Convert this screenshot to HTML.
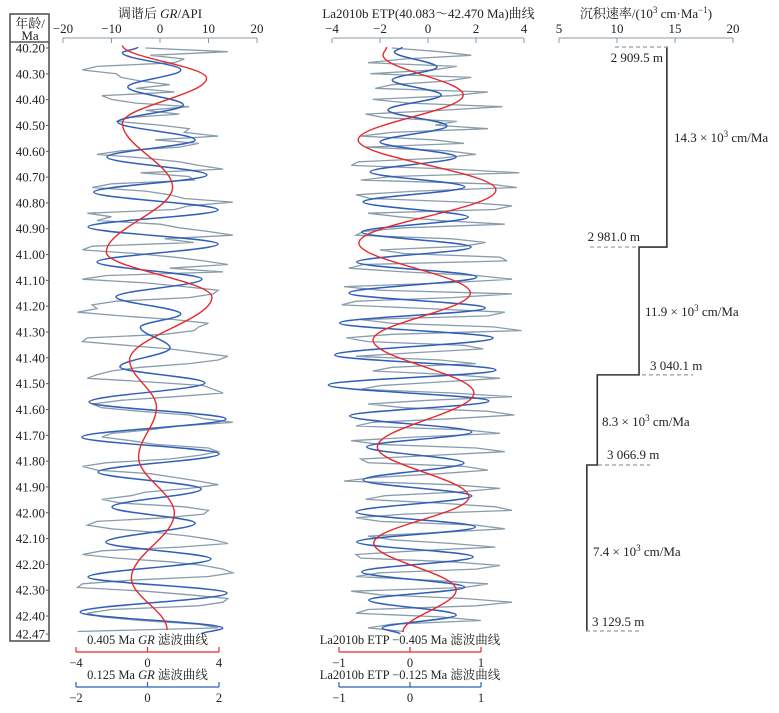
<!DOCTYPE html>
<html><head><meta charset="utf-8"><style>
body{margin:0;background:#fff;}
svg text{font-family:"Liberation Serif","Noto Serif CJK SC","Noto Sans CJK SC",serif;fill:#222;}
</style></head><body>
<svg id="chart" width="779" height="708" viewBox="0 0 779 708" xmlns="http://www.w3.org/2000/svg"></svg>
<script>
// ---- data ----
const ageTicks=[40.2,40.3,40.4,40.5,40.6,40.7,40.8,40.9,41.0,41.1,41.2,41.3,41.4,41.5,41.6,41.7,41.8,41.9,42.0,42.1,42.2,42.3,42.4,42.47];
const grTicks=[-20,-10,0,10,20];
const etpTicks=[-4,-2,0,2,4];
const rateTicks=[5,10,15,20];
const grRaw=[-3,14,-2,5,3,-13,-16,-9,-8,-4, 2,-5,3,-12,-10,-5,6,-3,4,-7, -9,0,6,5,12,-1,8,4,-8,-13, -3,4,8,13,-4,6,7,-10,-14,-3, 2,5,15,6,3,-15,-10,-13,0,4, 10,15,1,7,-14,-16,-5,3,9,14, 2,13,-11,-16,-3,5,12,11,6,-9, -14,-13,-17,-8,3,10,8,7,1,-15, -16,-7,2,8,14,12,6,-4,-10,-13, -15,-2,9,11,13,3,-8,-14,-12,-4, 6,9,15,4,-2,-10,-12,-6,-1,10, 12,8,2,-11,-16,-13,-2,3,8,12, 6,-3,-6,-12,-8,5,10,9,1,-13, -15,-10,-1,6,11,14,4,-12,-16,-9, 2,9,13,15,10,-6,-16,-17,-3,6, 14,13,8,-10,-15,-12,-4,8,12,-17];
const etpRaw=[-1.5,0.5,1.8,-1.0,-2.5,1.2,0.2,-2.4,1.8,0.8, -1.5,-2.2,2.5,1.0,-2.3,-0.8,3.1,0.5,-2.6,-1.8, 1.2,0.3,2.5,-1.5,-2.8,0.2,1.5,-2.6,0.8,2.0, 0.5,-2.9,-3.2,1.0,3.8,-1.5,-2.8,2.5,3.7,-0.5, -3.0,-2.4,1.5,3.5,2.8,-2.5,-1.2,0.5,3.2,-1.0, -2.7,-3.0,1.0,2.4,1.5,-2.0,-1.0,3.0,3.3,-2.7, -3.3,-1.0,2.0,3.5,0.8,-3.5,-2.0,3.5,1.0,-3.0, -3.6,0.0,3.2,2.5,-2.8,-1.5,2.7,3.9,-1.5,-3.4, -2.5,1.5,2.3,-0.5,-3.0,0.5,2.0,-1.5,-2.3,1.0, 3.0,0.5,-2.0,-2.8,1.0,3.5,0.0,-2.5,-1.0,2.5, 3.6,1.0,-2.3,-3.0,1.5,3.0,-0.5,-3.2,-2.0,2.0, 3.2,0.2,-2.8,-2.5,1.5,2.5,0.5,-2.2,-3.5,1.0, 3.0,1.2,-1.8,-2.6,0.5,2.8,3.5,-1.0,-3.0,-2.0, 2.0,3.2,0.5,-2.5,-1.5,1.0,2.8,-0.5,-3.0,-2.8, 1.0,3.0,2.0,-2.0,-3.0,0.0,2.5,1.5,-3.2,-2.0, 1.5,3.5,2.0,-2.5,-3.0,0.5,2.2,-1.5,-2.5,-1.0];
const rawStartAge=40.2, rawEndAge=42.46;
const grRedAges=[40.19,40.317,40.491,40.739,40.991,41.165,41.409,41.591,41.785,42.002,42.253,42.454];
const grRedVals=[-1.4,3.3,-1.4,1.4,-2.3,3.6,-1.0,0.5,-0.5,1.5,-0.9,1.1];
const grBlueAges=[40.196,40.219,40.285,40.351,40.421,40.487,40.556,40.622,40.692,40.758,40.827,40.893,40.959,41.029,41.095,41.164,41.230,41.281,41.362,41.435,41.497,41.571,41.637,41.707,41.772,41.842,41.908,41.978,42.040,42.114,42.179,42.249,42.311,42.385,42.447,42.47];
const grBlueVals=[-0.27,-0.7,0.93,-0.55,1.0,-0.83,1.33,-1.13,1.66,-1.5,1.97,-1.66,1.97,-1.41,1.52,-0.88,0.93,-0.2,0.63,-0.77,1.6,-1.63,2.19,-1.83,2.0,-1.38,1.5,-0.99,1.33,-1.16,1.77,-1.66,2.22,-1.88,2.1,1.5];
const etpRedAges=[40.196,40.227,40.382,40.556,40.75,40.955,41.149,41.331,41.536,41.745,41.939,42.117,42.299,42.462];
const etpRedVals=[-0.33,-0.38,0.75,-0.73,1.21,-0.72,0.85,-0.52,0.9,-0.46,0.83,-0.51,0.65,-0.1];
const etpBlueAges=[40.196,40.215,40.274,40.324,40.382,40.440,40.502,40.564,40.622,40.680,40.738,40.796,40.855,40.913,40.971,41.029,41.087,41.149,41.207,41.265,41.323,41.389,41.447,41.505,41.567,41.625,41.687,41.745,41.807,41.873,41.935,41.997,42.055,42.113,42.171,42.229,42.288,42.338,42.396,42.446,42.470];
const etpBlueVals=[-0.11,-0.22,0.38,-0.25,0.44,-0.31,0.52,-0.42,0.65,-0.56,0.77,-0.66,0.82,-0.68,0.86,-0.75,0.94,-0.86,1.06,-0.99,1.17,-1.06,1.21,-1.15,1.11,-0.85,0.87,-0.61,0.76,-0.66,0.87,-0.76,0.92,-0.75,0.89,-0.68,0.77,-0.58,0.65,-0.39,-0.14];
const rateBounds=[40.196,40.971,41.466,41.815,42.458];
const rateVals=[14.3,11.9,8.3,7.4];
const depthLabels=["2 909.5 m","2 981.0 m","3 040.1 m","3 066.9 m","3 129.5 m"];

// ---- scales ----
const yAge=a=>48+(a-40.2)*258.2;
const xGR=v=>160+v*4.85;
const xETP=v=>428+v*24;
const xGRred=v=>147.5+v*17.9, xGRblue=v=>147.5+v*35.8;
const xETPf=v=>410+v*71;
const xRate=v=>559+(v-5)*11.6;

const svg=document.getElementById('chart');
const NS='http://www.w3.org/2000/svg';
function el(tag,attrs,parent){const e=document.createElementNS(NS,tag);for(const k in attrs)e.setAttribute(k,attrs[k]);(parent||svg).appendChild(e);return e;}
function txt(s,x,y,size,anchor,parent){const t=el('text',{x:x,y:y,'font-size':size,'text-anchor':anchor||'middle'},parent);t.innerHTML=s;return t;}
function smooth(ages,vals,xf){let d='';for(let i=0;i<ages.length;i++){const x=xf(vals[i]),y=yAge(ages[i]);if(i===0){d+='M'+x+' '+y;}else{const px=xf(vals[i-1]),py=yAge(ages[i-1]),dy=(y-py)*0.36;d+=' C'+px+' '+(py+dy)+' '+x+' '+(y-dy)+' '+x+' '+y;}}return d;}
function raw(vals,xf){const n=vals.length;return vals.map((v,i)=>xf(v).toFixed(1)+','+yAge(rawStartAge+(rawEndAge-rawStartAge)*i/(n-1)).toFixed(1)).join(' ');}

// ---- age column ----
const ageG=el('g',{});


el('rect',{x:10,y:14,width:39,height:627,fill:'none',stroke:'#555','stroke-width':1.6},ageG);
el('line',{x1:10,y1:42,x2:49,y2:42,stroke:'#555','stroke-width':1.4},ageG);
txt('年龄/',30,28,13,'middle',ageG);
txt('Ma',30,40,13,'middle',ageG);
ageTicks.forEach(a=>{const y=yAge(a);el('line',{x1:46,y1:y,x2:49,y2:y,stroke:'#555'},ageG);const t=txt(a.toFixed(2),45,y+4.5,13,'end',ageG);});

// ---- top axes ----
function topAxis(ticks,xf,title,x0,x1,name){const g=el('g',{});
el('line',{x1:x0,y1:38,x2:x1,y2:38,stroke:'#8a9aa8','stroke-width':1},g);
ticks.forEach(v=>{const x=xf(v);el('line',{x1:x,y1:38,x2:x,y2:43,stroke:'#8a9aa8'},g);txt(String(v).replace('-','−'),x,33,13,'middle',g);});
const t=txt(title,(x0+x1)/2,18,13,'middle',g);return g;}
topAxis(grTicks,xGR,'调谐后 <tspan font-style="italic">GR</tspan>/API',63,257,'gr-top-axis');
topAxis(etpTicks,xETP,'La2010b ETP(40.083～42.470 Ma)曲线',333,524,'etp-top-axis');
topAxis(rateTicks,xRate,'沉积速率/(10<tspan font-size="9" dy="-5">3</tspan><tspan dy="5"> cm·Ma</tspan><tspan font-size="9" dy="-5">−1</tspan><tspan dy="5">)</tspan>',559,733,'rate-top-axis');

// ---- series ----
let p;
p=el('polyline',{points:raw(grRaw,xGR),fill:'none',stroke:'#889cab','stroke-width':1.3});


p=el('path',{d:smooth(grBlueAges,grBlueVals,xGRblue),fill:'none',stroke:'#2f5fb8','stroke-width':1.5});


p=el('path',{d:smooth(grRedAges,grRedVals,xGRred),fill:'none',stroke:'#e8282a','stroke-width':1.4});


p=el('polyline',{points:raw(etpRaw,xETP),fill:'none',stroke:'#889cab','stroke-width':1.3});


p=el('path',{d:smooth(etpBlueAges,etpBlueVals,xETPf),fill:'none',stroke:'#2f5fb8','stroke-width':1.5});


p=el('path',{d:smooth(etpRedAges,etpRedVals,xETPf),fill:'none',stroke:'#e8282a','stroke-width':1.4});



// ---- sedimentation rate step ----
let d='';
rateVals.forEach((r,i)=>{const x=xRate(r),y0=yAge(rateBounds[i]),y1=yAge(rateBounds[i+1]);d+=(i===0?'M':' L')+x+' '+y0+' L'+x+' '+y1;});
p=el('path',{d:d,fill:'none',stroke:'#333','stroke-width':1.6});


const dashSpans=[[615,668],[590,639],[642,693],[598,650],[586,640]];
const labelPos=[[663,62,'end'],[640,241,'end'],[650,370,'start'],[607,459,'start'],[592,626,'start']];
rateBounds.forEach((a,i)=>{const y=yAge(a);const l=el('line',{x1:dashSpans[i][0],y1:y,x2:dashSpans[i][1],y2:y,stroke:'#999','stroke-dasharray':'4,3','stroke-width':1.2});


const t=txt(depthLabels[i],labelPos[i][0],labelPos[i][1],13,labelPos[i][2]);

});
const rateLabelPos=[[674,142],[645,316],[602,426],[593,556]];
rateVals.forEach((r,i)=>{const t=txt(r.toFixed(1)+' × 10<tspan font-size="9" dy="-5">3</tspan><tspan dy="5"> cm/Ma</tspan>',rateLabelPos[i][0],rateLabelPos[i][1],13,'start');

});

// ---- bottom legend axes ----
function legAxis(x0,x1,y,color,ticks,title,name){const g=el('g',{});
txt(title,(x0+x1)/2,y-8,12.5,'middle',g);
el('line',{x1:x0,y1:y,x2:x1,y2:y,stroke:color,'stroke-width':1.2},g);
ticks.forEach((v,i)=>{const x=x0+(x1-x0)*i/(ticks.length-1);el('line',{x1:x,y1:y,x2:x,y2:y-5,stroke:color,'stroke-width':1.2},g);txt(v,x,y+15,12.5,'middle',g);});}
legAxis(76,219,652,'#e8282a',['−4','0','4'],'0.405 Ma <tspan font-style="italic">GR</tspan> 滤波曲线','gr-red-legend-axis');
legAxis(76,219,687,'#2f5fb8',['−2','0','2'],'0.125 Ma <tspan font-style="italic">GR</tspan> 滤波曲线','gr-blue-legend-axis');
legAxis(339,481,652,'#e8282a',['−1','0','1'],'La2010b ETP −0.405 Ma 滤波曲线','etp-red-legend-axis');
legAxis(339,481,687,'#2f5fb8',['−1','0','1'],'La2010b ETP −0.125 Ma 滤波曲线','etp-blue-legend-axis');
</script>
</body></html>
